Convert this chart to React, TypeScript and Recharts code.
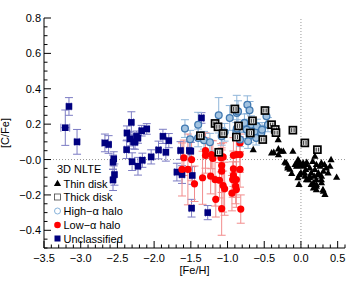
import React from "react";
import { ScatterChart, Scatter, XAxis, YAxis, ErrorBar, ReferenceLine } from "recharts";

// [Fe/H], [C/Fe]
const thinDisk = [
  [-0.31, 0.113], [-0.65, 0.056], [-0.37, 0.041], [-0.27, 0.047], [-0.307, 0.06], [-0.4, 0.038],
  [-0.307, 0.028], [-0.24, 0.047], [-0.11, 0.047], [-0.22, -0.015], [-0.2, -0.019], [-0.18, -0.036],
  [-0.18, -0.047], [-0.15, -0.055], [-0.126, -0.079], [-0.08, -0.028], [-0.058, -0.019], [-0.04, 0.0],
  [-0.026, -0.01], [-0.06, -0.038], [-0.044, -0.034], [-0.02, -0.085], [-0.04, -0.103], [-0.026, -0.14],
  [0.0, -0.028], [0.03, -0.038], [0.03, -0.019], [0.074, -0.028], [0.078, -0.015], [0.065, -0.056],
  [0.05, -0.075], [0.0, -0.075], [0.055, -0.094], [0.074, -0.113], [0.1, -0.113], [0.12, -0.047],
  [0.12, -0.094], [0.12, -0.103], [0.14, -0.075], [0.14, -0.141], [0.16, -0.01], [0.19, 0.019],
  [0.19, -0.056], [0.18, -0.094], [0.21, -0.028], [0.21, -0.113], [0.21, -0.141], [0.21, -0.15],
  [0.21, -0.17], [0.17, -0.131], [0.17, -0.16], [0.23, -0.085], [0.237, -0.075], [0.26, -0.038],
  [0.278, -0.019], [0.28, -0.094], [0.278, -0.113], [0.28, -0.131], [0.3, -0.17], [0.305, -0.066],
  [0.305, -0.179], [0.32, -0.028], [0.327, -0.197], [0.345, -0.047], [0.37, -0.075], [0.395, -0.038],
  [0.41, 0.0], [0.486, -0.1],
];

// [Fe/H], [C/Fe], err
const thickDisk = [
  [-0.9, 0.286, 0.02], [-0.49, 0.277, 0.02], [-0.66, 0.219, 0.02], [-0.85, 0.19, 0.02],
  [-1.17, 0.204, 0.02], [-1.13, 0.185, 0.02], [-1.06, 0.147, 0.02], [-1.37, 0.135, 0.02],
  [-0.88, 0.127, 0.02], [-0.4, 0.197, 0.02], [-0.35, 0.17, 0.02], [-0.34, 0.152, 0.02],
  [-0.52, 0.113, 0.02], [-0.69, 0.15, 0.02], [-0.11, 0.166, 0.02], [-1.12, 0.041, 0.02],
  [0.053, 0.094, 0.02], [0.224, 0.056, 0.02],
];

// [Fe/H], [C/Fe], x err, y err
const highAlpha = [
  [-1.58, 0.175, 0.04, 0.05], [-1.51, 0.115, 0.04, 0.05], [-1.4, 0.197, 0.04, 0.07],
  [-1.4, 0.122, 0.04, 0.05], [-1.32, 0.109, 0.04, 0.05], [-1.24, 0.098, 0.04, 0.05],
  [-1.12, 0.25, 0.04, 0.1], [-1.08, 0.131, 0.04, 0.05], [-1.04, 0.154, 0.04, 0.05],
  [-0.97, 0.235, 0.04, 0.07], [-0.874, 0.263, 0.04, 0.1], [-0.73, 0.31, 0.04, 0.05],
  [-0.7, 0.278, 0.04, 0.05], [-0.857, 0.272, 0.04, 0.06], [-0.77, 0.207, 0.04, 0.05],
  [-0.68, 0.197, 0.04, 0.05], [-0.74, 0.169, 0.04, 0.05], [-0.63, 0.159, 0.04, 0.04],
  [-0.7, 0.135, 0.04, 0.04], [-0.61, 0.122, 0.04, 0.04], [-0.54, 0.15, 0.04, 0.04],
  [-0.47, 0.244, 0.04, 0.05], [-0.45, 0.197, 0.04, 0.04], [-0.88, 0.159, 0.04, 0.05],
  [-0.72, 0.103, 0.04, 0.04], [-0.83, 0.113, 0.04, 0.04], [-0.874, 0.175, 0.04, 0.05],
  [-0.6, 0.188, 0.04, 0.04], [-0.53, 0.169, 0.04, 0.04],
];

const lowAlpha = [
  [-1.595, 0.01, 0.03, 0.1], [-1.49, 0.0, 0.03, 0.12], [-1.62, -0.056, 0.03, 0.15],
  [-1.54, -0.056, 0.03, 0.2], [-1.45, -0.137, 0.03, 0.1], [-1.34, -0.103, 0.03, 0.15],
  [-1.3, 0.051, 0.03, 0.1], [-1.3, 0.023, 0.03, 0.1], [-1.22, 0.028, 0.03, 0.08],
  [-1.2, 0.006, 0.03, 0.1], [-1.23, -0.094, 0.03, 0.1], [-1.17, -0.113, 0.03, 0.15],
  [-1.11, -0.117, 0.03, 0.1], [-1.09, 0.01, 0.03, 0.08], [-1.06, 0.015, 0.03, 0.08],
  [-1.08, -0.034, 0.03, 0.1], [-1.08, -0.066, 0.03, 0.12], [-1.06, -0.147, 0.03, 0.15],
  [-1.04, -0.165, 0.03, 0.15], [-1.16, -0.225, 0.03, 0.1], [-1.08, -0.278, 0.03, 0.15],
  [-0.92, 0.024, 0.03, 0.1], [-0.83, 0.028, 0.03, 0.1], [-0.92, -0.052, 0.03, 0.1],
  [-0.83, -0.056, 0.03, 0.1], [-0.92, -0.09, 0.03, 0.1], [-0.93, -0.113, 0.03, 0.1],
  [-0.89, -0.15, 0.03, 0.1], [-0.94, -0.19, 0.03, 0.1], [-0.82, -0.28, 0.03, 0.08],
  [-0.83, 0.094, 0.03, 0.05], [-0.88, -0.113, 0.03, 0.1], [-0.88, -0.17, 0.03, 0.1],
  [-0.88, 0.028, 0.03, 0.1],
];

const unclassified = [
  [-3.21, 0.18, 0.06, 0.1], [-3.16, 0.3, 0.03, 0.05], [-3.05, 0.1, 0.03, 0.07],
  [-2.67, 0.094, 0.04, 0.05], [-2.62, 0.085, 0.03, 0.05], [-2.55, 0.004, 0.03, 0.04],
  [-2.56, -0.015, 0.02, 0.04], [-2.54, -0.085, 0.03, 0.06], [-2.56, -0.115, 0.03, 0.06],
  [-2.31, 0.21, 0.03, 0.06], [-2.37, 0.15, 0.03, 0.04], [-2.33, 0.117, 0.03, 0.04],
  [-2.28, 0.1, 0.03, 0.04], [-2.375, 0.056, 0.03, 0.05], [-2.3, -0.012, 0.03, 0.05],
  [-2.26, 0.098, 0.03, 0.04], [-2.22, 0.122, 0.03, 0.03], [-2.24, 0.131, 0.03, 0.03],
  [-2.17, 0.163, 0.03, 0.03], [-2.1, 0.173, 0.03, 0.03], [-2.22, -0.038, 0.03, 0.05],
  [-2.16, -0.004, 0.03, 0.04], [-2.04, 0.015, 0.03, 0.04], [-1.94, 0.054, 0.03, 0.05],
  [-1.88, 0.131, 0.03, 0.04], [-1.8, 0.107, 0.03, 0.04], [-1.84, 0.041, 0.03, 0.05],
  [-1.69, -0.071, 0.03, 0.05], [-1.64, 0.051, 0.03, 0.05], [-1.62, -0.085, 0.03, 0.05],
  [-1.52, 0.051, 0.03, 0.05], [-1.48, -0.09, 0.03, 0.05], [-1.49, -0.275, 0.03, 0.05],
  [-1.27, -0.3, 0.03, 0.04], [-1.355, 0.235, 0.03, 0.03], [-1.5, 0.047, 0.03, 0.05],
];

const xMajor = [-3.5, -3.0, -2.5, -2.0, -1.5, -1.0, -0.5, 0.0, 0.5];
const xLabels = ["−3.5", "−3.0", "−2.5", "−2.0", "−1.5", "−1.0", "−0.5", "0.0", "0.5"];
const yMajor = [-0.4, -0.2, 0.0, 0.2, 0.4, 0.6, 0.8];
const yLabels = ["−0.4", "−0.2", "−0.0", "0.2", "0.4", "0.6", "0.8"];

const xMinor = Array.from({ length: 42 }, (_, i) => Math.round(-35 + i) / 10);
const yMinor = Array.from({ length: 27 }, (_, i) => Math.round(-50 + i * 5) / 100);

const FONT = "'Liberation Sans', Arial, Helvetica, sans-serif";

const rows = (pts: number[][]) => pts.map(([x, y, ex = 0, ey = 0]) => ({ x, y, ex, ey }));
const rowsThick = (pts: number[][]) => pts.map(([x, y, e]) => ({ x, y, ex: 0, ey: e }));

const near = (a: number, b: number) => Math.abs(a - b) < 1e-6;

const BottomTick = (p: any) => {
  const v = p.payload.value;
  const i = xMajor.findIndex((m) => near(m, v));
  return (
    <g>
      <line x1={p.x} x2={p.x} y1={p.y} y2={p.y - (i >= 0 ? 7 : 3.5)} stroke="#000" />
      {i >= 0 && (
        <text x={p.x} y={p.y + 14} textAnchor="middle" fontSize={11} fontFamily={FONT} fill="#000">
          {xLabels[i]}
        </text>
      )}
    </g>
  );
};

const TopTick = (p: any) => {
  const v = p.payload.value;
  const i = xMajor.findIndex((m) => near(m, v));
  return <line x1={p.x} x2={p.x} y1={p.y} y2={p.y + (i >= 0 ? 7 : 3.5)} stroke="#000" />;
};

const LeftTick = (p: any) => {
  const v = p.payload.value;
  const i = yMajor.findIndex((m) => near(m, v));
  return (
    <g>
      <line x1={p.x} x2={p.x + (i >= 0 ? 7 : 3.5)} y1={p.y} y2={p.y} stroke="#000" />
      {i >= 0 && (
        <text x={p.x - 3} y={p.y + 4} textAnchor="end" fontSize={11} fontFamily={FONT} fill="#000">
          {yLabels[i]}
        </text>
      )}
    </g>
  );
};

const RightTick = (p: any) => {
  const v = p.payload.value;
  const i = yMajor.findIndex((m) => near(m, v));
  return <line x1={p.x} x2={p.x - (i >= 0 ? 7 : 3.5)} y1={p.y} y2={p.y} stroke="#000" />;
};

const Triangle = ({ cx, cy }: any) => (
  <path d={`M${cx},${cy - 3.8} L${cx + 3.6},${cy + 2.6} L${cx - 3.6},${cy + 2.6} Z`} fill="#000" />
);
const OpenSquare = ({ cx, cy }: any) => (
  <g>
    <rect x={cx - 3.5} y={cy - 3.5} width={7} height={7} fill="#e6e6e6" stroke="#000" strokeWidth={1.7} />
    <line x1={cx - 1.2} x2={cx - 1.2} y1={cy - 2} y2={cy + 2} stroke="#000" strokeWidth={0.8} />
    <line x1={cx + 1.2} x2={cx + 1.2} y1={cy - 2} y2={cy + 2} stroke="#000" strokeWidth={0.8} />
  </g>
);
const BlueCircle = ({ cx, cy }: any) => (
  <circle cx={cx} cy={cy} r={3.4} fill="#a3c3e0" stroke="#4179b1" strokeWidth={1.3} />
);
const RedDot = ({ cx, cy }: any) => <circle cx={cx} cy={cy} r={3.6} fill="#ff0000" />;
const NavySquare = ({ cx, cy }: any) => (
  <rect x={cx - 3.3} y={cy - 3.3} width={6.6} height={6.6} fill="#00007f" />
);

const legendRows = [
  { label: "Thin disk", cy: 183.5 },
  { label: "Thick disk", cy: 197 },
  { label: "High−α halo", cy: 211 },
  { label: "Low−α halo", cy: 225 },
  { label: "Unclassified", cy: 238.5 },
];

export default function App() {
  return (
    <div style={{ position: "absolute", left: 0, top: 0, width: 363, height: 281, background: "#fff" }}>
      <ScatterChart width={363} height={281} margin={{ top: 18, right: 18, bottom: 0, left: 0 }}>
        <XAxis
          xAxisId="top"
          orientation="top"
          type="number"
          dataKey="x"
          domain={[-3.5, 0.6]}
          allowDataOverflow
          ticks={xMinor}
          interval={0}
          height={0}
          tickSize={0}
          tickMargin={0}
          tickLine={false}
          tick={TopTick}
          axisLine={{ stroke: "#000" }}
        />
        <YAxis
          yAxisId="right"
          orientation="right"
          type="number"
          dataKey="y"
          domain={[-0.5, 0.8]}
          allowDataOverflow
          ticks={yMinor}
          interval={0}
          width={0}
          tickSize={0}
          tickMargin={0}
          tickLine={false}
          tick={RightTick}
          axisLine={{ stroke: "#000" }}
        />
        <XAxis
          type="number"
          dataKey="x"
          domain={[-3.5, 0.6]}
          allowDataOverflow
          ticks={xMinor}
          interval={0}
          height={33}
          tickSize={0}
          tickMargin={0}
          tickLine={false}
          tick={BottomTick}
          axisLine={{ stroke: "#000" }}
        />
        <YAxis
          type="number"
          dataKey="y"
          domain={[-0.5, 0.8]}
          allowDataOverflow
          ticks={yMinor}
          interval={0}
          width={44}
          tickSize={0}
          tickMargin={0}
          tickLine={false}
          tick={LeftTick}
          axisLine={{ stroke: "#000" }}
        />
        <ReferenceLine y={0} stroke="#999" strokeDasharray="1 2" />
        <ReferenceLine x={0} stroke="#999" strokeDasharray="1 2" />
        <Scatter data={rows(unclassified)} shape={NavySquare} isAnimationActive={false}>
          <ErrorBar dataKey="ey" direction="y" width={4} stroke="#7c7cc4" strokeWidth={1} />
          <ErrorBar dataKey="ex" direction="x" width={4} stroke="#7c7cc4" strokeWidth={1} />
        </Scatter>
        <Scatter data={rows(lowAlpha)} shape={RedDot} isAnimationActive={false}>
          <ErrorBar dataKey="ey" direction="y" width={4} stroke="#f28c8c" strokeWidth={1} />
        </Scatter>
        <Scatter data={rows(highAlpha)} shape={BlueCircle} isAnimationActive={false}>
          <ErrorBar dataKey="ey" direction="y" width={4} stroke="#8fb5d9" strokeWidth={1} />
        </Scatter>
        <Scatter data={rowsThick(thickDisk)} shape={OpenSquare} isAnimationActive={false} />
        <Scatter data={rows(thinDisk)} shape={Triangle} isAnimationActive={false} />
      </ScatterChart>
      <svg
        width={363}
        height={281}
        style={{ position: "absolute", left: 0, top: 0, pointerEvents: "none" }}
        fontFamily={FONT}
        fontSize={11}
      >
        <text x={194.5} y={274} textAnchor="middle" fill="#000">[Fe/H]</text>
        <text transform="translate(9,133) rotate(-90)" textAnchor="middle" fill="#000">[C/Fe]</text>
        <text x={57} y={173} fill="#000">3D NLTE</text>
        {legendRows.map((r, i) => (
          <g key={r.label}>
            {i === 0 && <Triangle cx={57.5} cy={r.cy} />}
            {i === 1 && <rect x={54.5} y={r.cy - 3} width={6} height={6} fill="#fff" stroke="#444" strokeWidth={0.8} />}
            {i === 2 && <circle cx={57.5} cy={r.cy} r={3} fill="#fff" stroke="#6a9fd0" strokeWidth={0.8} />}
            {i === 3 && <circle cx={57.5} cy={r.cy} r={3.3} fill="#ff0000" />}
            {i === 4 && <rect x={54.5} y={r.cy - 3} width={6} height={6} fill="#00007f" />}
            <text x={63.5} y={r.cy + 4} fill="#000">{r.label}</text>
          </g>
        ))}
      </svg>
    </div>
  );
}
